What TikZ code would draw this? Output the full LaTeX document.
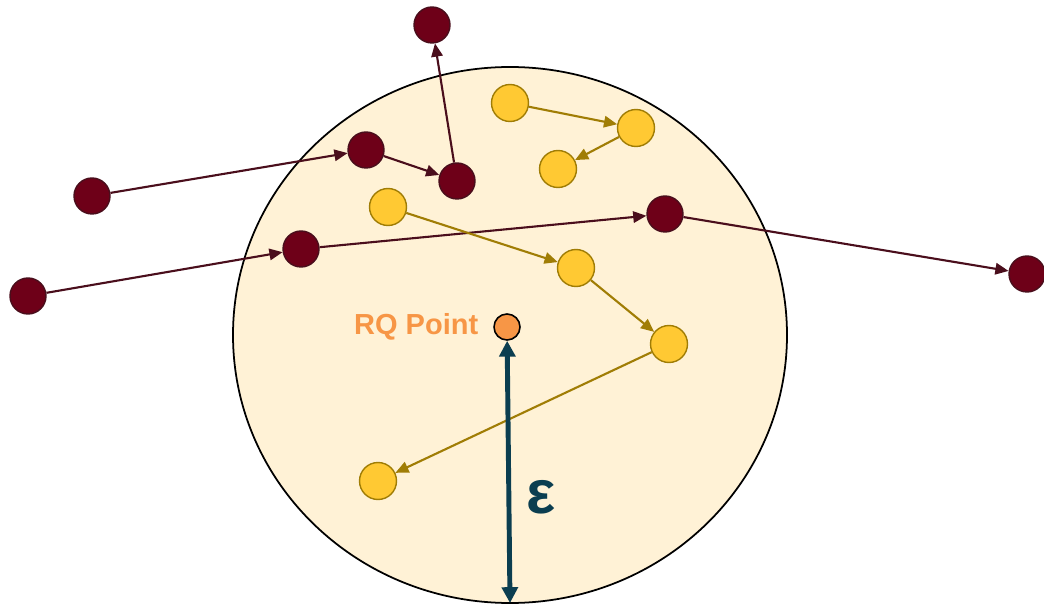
\documentclass[tikz,border=0pt]{standalone}
\usepackage{fontspec}
\setmainfont{Liberation Sans}
\usepackage{tikz}
\usetikzlibrary{arrows.meta}
\definecolor{cream}{HTML}{FFF2D6}
\definecolor{wine}{HTML}{6E0018}
\definecolor{wineline}{HTML}{4A0E1C}
\definecolor{gold}{HTML}{FFC933}
\definecolor{goldline}{HTML}{A07D05}
\definecolor{rqorange}{HTML}{F79646}
\definecolor{teal}{HTML}{0B3E50}
\tikzset{
  far/.style={circle, draw=wineline, fill=wine, line width=0.8pt, minimum size=0.72cm, inner sep=0pt},
  near/.style={circle, draw=goldline, fill=gold, line width=0.8pt, minimum size=0.74cm, inner sep=0pt},
  farlink/.style={draw=wineline, line width=1.2pt, -{Triangle[length=7.5pt,width=6.5pt]}},
  nearlink/.style={draw=goldline, line width=1.2pt, -{Triangle[length=7.5pt,width=6.5pt]}},
}

\begin{document}
\begin{tikzpicture}[x=0.02cm, y=-0.02cm]
    \useasboundingbox (0,0) rectangle (1044,604);

    % eps-neighbourhood of the query point
    \filldraw[fill=cream, draw=black, line width=1pt] (510,335) ellipse [x radius=277, y radius=268];

    % points outside / crossing the region
    \node[far] (d1) at (432,25) {};
    \node[far] (d2) at (366,150) {};
    \node[far] (d3) at (457,181) {};
    \node[far] (d4) at (92,196) {};
    \node[far] (d5) at (301,249) {};
    \node[far] (d6) at (665,214) {};
    \node[far] (d7) at (1027,274) {};
    \node[far] (d8) at (28,296) {};

    % points inside the region
    \node[near] (y1) at (510,103) {};
    \node[near] (y2) at (636,128) {};
    \node[near] (y3) at (558,169) {};
    \node[near] (y4) at (388,207) {};
    \node[near] (y5) at (576,268) {};
    \node[near] (y6) at (669,344) {};
    \node[near] (y7) at (378,481) {};

    \draw[farlink] (d4) -- (d2);
    \draw[farlink] (d2) -- (d3);
    \draw[farlink] (d3) -- (d1);
    \draw[farlink] (d8) -- (d5);
    \draw[farlink] (d5) -- (d6);
    \draw[farlink] (d6) -- (d7);

    \draw[nearlink] (y1) -- (y2);
    \draw[nearlink] (y2) -- (y3);
    \draw[nearlink] (y4) -- (y5);
    \draw[nearlink] (y5) -- (y6);
    \draw[nearlink] (y6) -- (y7);

    % query point and radius
    \node[circle, draw=black, fill=rqorange, line width=0.9pt, minimum size=0.52cm, inner sep=0pt] (rq) at (507,327) {};
    \node[left=5pt, text=rqorange, font=\fontsize{16.5}{18}\selectfont\bfseries] (rqlabel) at (rq.west) {RQ Point};
    \coordinate (rim) at (510,603);
    \draw[teal, line width=2.8pt, {Triangle[length=9pt,width=9pt]}-{Triangle[length=9pt,width=9pt]}] (rq) -- (rim);
    \node[text=teal, font=\fontsize{35}{37}\selectfont\bfseries] (eps) at (541,497) {ε};
\end{tikzpicture}
\end{document}
